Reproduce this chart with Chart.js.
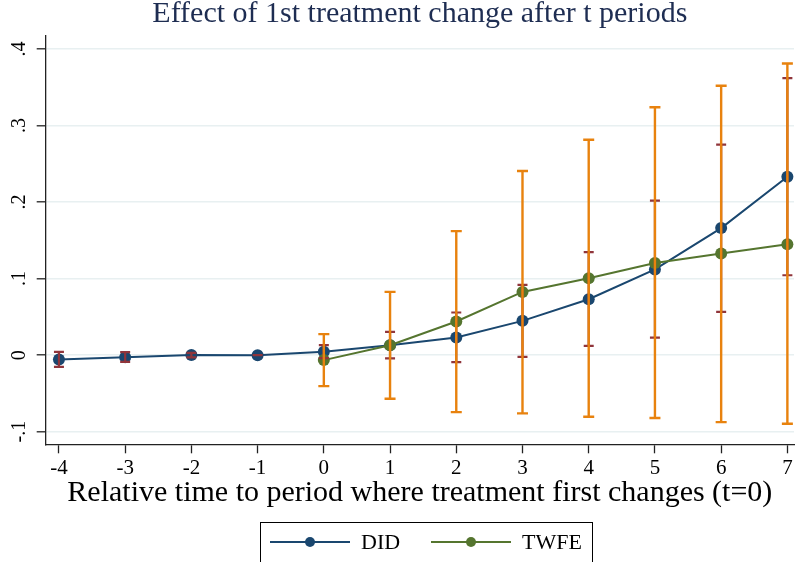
<!DOCTYPE html>
<html>
<head>
<meta charset="utf-8">
<script src="https://cdn.jsdelivr.net/npm/chart.js@4"></script>
<style>
  html, body { margin: 0; padding: 0; background: #fff; }
  #wrap { width: 800px; height: 562px; }
</style>
</head>
<body>
<div id="wrap"><canvas id="effectChart" width="800" height="562"></canvas></div>
<script>
// Periods relative to first treatment change
const periods = [-4, -3, -2, -1, 0, 1, 2, 3, 4, 5, 6, 7];
const xTickLabels = ["-4", "-3", "-2", "-1", "0", "1", "2", "3", "4", "5", "6", "7"];
const yTicks = [-0.1, 0, 0.1, 0.2, 0.3, 0.4];
const yTickLabels = ["-.1", "0", ".1", ".2", ".3", ".4"];
const seriesNames = ["DID", "TWFE"];

// DID estimates and confidence bands
const didEst = [-0.0056, -0.0026, 0.0003, 0.0, 0.0043, 0.013, 0.023, 0.0448, 0.073, 0.112, 0.166, 0.233];
const didLo  = [-0.0153, -0.0087, -0.003, 0.0, -0.004, -0.0043, -0.0091, -0.0022, 0.0122, 0.023, 0.0565, 0.1044];
const didHi  = [0.0043, 0.0040, 0.003, 0.0, 0.013, 0.0304, 0.0557, 0.0918, 0.1345, 0.202, 0.275, 0.362];

// TWFE estimates and confidence bands (only from t=0)
const twfeEst = [null, null, null, null, -0.0065, 0.013, 0.044, 0.0826, 0.1005, 0.1205, 0.1328, 0.145];
const twfeLo  = [null, null, null, null, -0.0405, -0.057, -0.0744, -0.0761, -0.0805, -0.0822, -0.0875, -0.0897];
const twfeHi  = [null, null, null, null, 0.0274, 0.0826, 0.162, 0.2406, 0.2815, 0.324, 0.352, 0.381];

const chartTitle = "Effect of 1st treatment change after t periods";
const xTitle = "Relative time to period where treatment first changes (t=0)";

const navy = "rgb(26,71,111)";
const green = "rgb(85,117,47)";
const maroon = "rgb(144,53,59)";
const orange = "rgb(232,130,14)";
const serif = "'Liberation Serif', 'Times New Roman', serif";

function toPoints(values) {
    return periods.map((p, i) => ({ x: p, y: values[i] }));
}

// draws vertical CI bars with caps through the chart scales
function drawBars(ctx, x, y, lo, hi, color, width, cap) {
    ctx.save();
    ctx.strokeStyle = color;
    ctx.lineWidth = width;
    periods.forEach((p, i) => {
        if (lo[i] == null) return;
        const px = x.getPixelForValue(p);
        const top = y.getPixelForValue(hi[i]);
        const bot = y.getPixelForValue(lo[i]);
        ctx.beginPath();
        ctx.moveTo(px, top); ctx.lineTo(px, bot);
        ctx.moveTo(px - cap, top); ctx.lineTo(px + cap, top);
        ctx.moveTo(px - cap, bot); ctx.lineTo(px + cap, bot);
        ctx.stroke();
    });
    ctx.restore();
}

const errorBars = {
    id: "errorBars",
    afterDatasetsDraw(chart) {
        const { ctx, scales: { x, y } } = chart;
        drawBars(ctx, x, y, didLo, didHi, maroon, 2.2, 5);
        drawBars(ctx, x, y, twfeLo, twfeHi, orange, 2.4, 5.5);
    }
};

// Stata-style boxed legend at the bottom
const boxLegend = {
    id: "boxLegend",
    afterDraw(chart) {
        const ctx = chart.ctx;
        const colors = [navy, green];
        const lineStarts = [270, 431];
        const cy = 542;
        ctx.save();
        ctx.strokeStyle = "#000";
        ctx.lineWidth = 1;
        ctx.strokeRect(260.5, 522.5, 332, 60);
        seriesNames.forEach((name, i) => {
            const x0 = lineStarts[i];
            ctx.strokeStyle = colors[i];
            ctx.lineWidth = 2;
            ctx.beginPath();
            ctx.moveTo(x0, cy); ctx.lineTo(x0 + 80, cy);
            ctx.stroke();
            ctx.fillStyle = colors[i];
            ctx.beginPath();
            ctx.arc(x0 + 40, cy, 5, 0, Math.PI * 2);
            ctx.fill();
            ctx.fillStyle = "#000";
            ctx.font = "22px " + serif;
            ctx.textBaseline = "middle";
            ctx.textAlign = "left";
            ctx.fillText(name, x0 + 91, cy + 1);
        });
        ctx.restore();
    }
};

const ctx = document.getElementById("effectChart").getContext("2d");

new Chart(ctx, {
    type: "line",
    data: {
        datasets: [{
            label: seriesNames[0],
            data: toPoints(didEst),
            borderColor: navy,
            backgroundColor: navy,
            borderWidth: 2,
            pointRadius: 6,
            pointBorderWidth: 0,
            pointBackgroundColor: navy,
            order: 2
        }, {
            label: seriesNames[1],
            data: toPoints(twfeEst),
            borderColor: green,
            backgroundColor: green,
            borderWidth: 2,
            pointRadius: 6,
            pointBorderWidth: 0,
            pointBackgroundColor: green,
            spanGaps: false,
            order: 1
        }]
    },
    options: {
        responsive: false,
        animation: false,
        devicePixelRatio: 1,
        layout: { padding: 0 },
        plugins: {
            legend: { display: false },
            tooltip: { enabled: false },
            title: {
                display: true,
                text: chartTitle,
                fullSize: false,
                color: "#1e2d52",
                font: { family: serif, size: 30, weight: "normal", lineHeight: 0.96 },
                padding: { top: 0, bottom: 7.2 }
            }
        },
        scales: {
            x: {
                type: "linear",
                min: -4.2,
                max: 7.1,
                afterBuildTicks: s => { s.ticks = periods.map(v => ({ value: v })); },
                afterFit: s => { s.height = 117.7; },
                grid: { drawOnChartArea: false, tickLength: 9, tickColor: "#222", tickWidth: 1.3 },
                border: { color: "#222", width: 1.3 },
                ticks: {
                    autoSkip: false, maxRotation: 0, color: "#000", padding: 3,
                    font: { family: serif, size: 21 },
                    callback: (v, i) => xTickLabels[i]
                },
                title: {
                    display: true, text: xTitle, color: "#000",
                    font: { family: serif, size: 30 },
                    padding: { top: 0, bottom: 51 }
                }
            },
            y: {
                type: "linear",
                min: -0.1165,
                max: 0.417,
                afterBuildTicks: s => { s.ticks = yTicks.map(v => ({ value: v })); },
                afterFit: s => { s.width = 45.7; },
                grid: { color: "#e8f0f1", lineWidth: 1.6, tickLength: 9, tickColor: "#222", tickWidth: 1.3 },
                border: { color: "#222", width: 1.3 },
                ticks: {
                    minRotation: 90, maxRotation: 90, crossAlign: "center", padding: 6,
                    color: "#000",
                    font: { family: serif, size: 20 },
                    callback: (v, i) => yTickLabels[i]
                }
            }
        }
    },
    plugins: [errorBars, boxLegend]
});
</script>
</body>
</html>
